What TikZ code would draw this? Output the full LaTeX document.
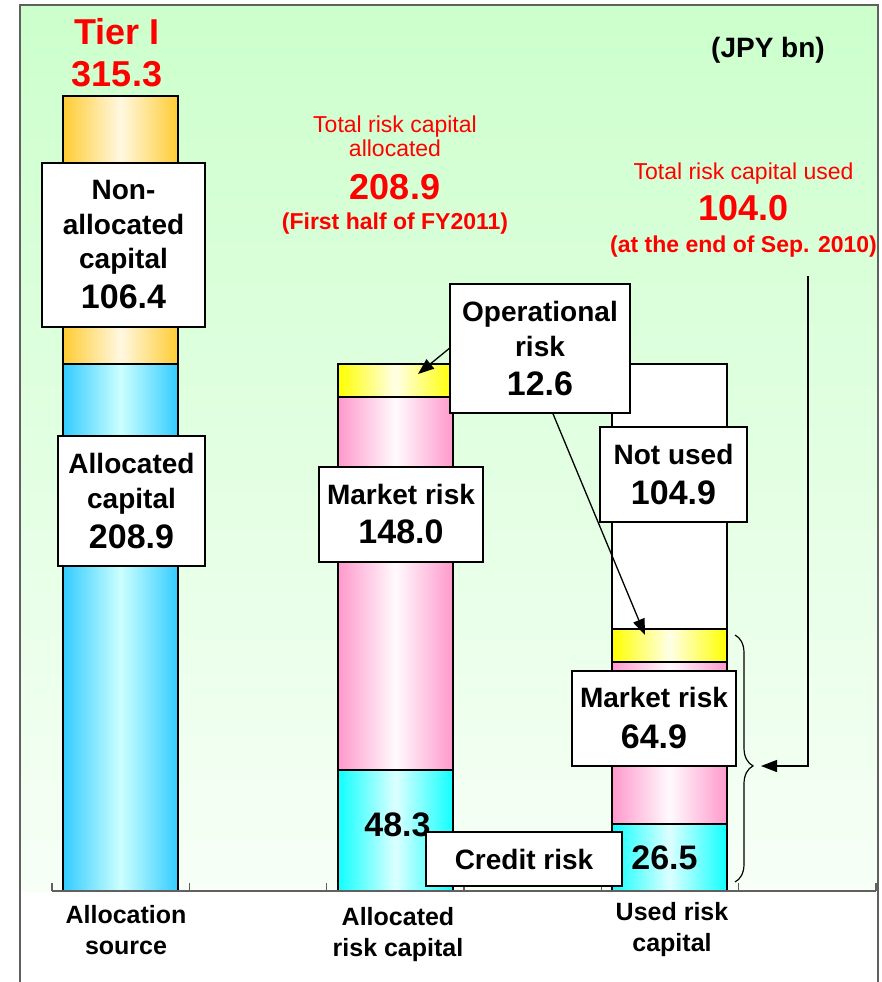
\documentclass[tikz,border=0pt]{standalone}
\usepackage{fontspec}
\setmainfont{Liberation Sans}
\usetikzlibrary{positioning,arrows.meta,decorations.pathreplacing,calc}

\definecolor{bggreen}{HTML}{CCFFCC}
\definecolor{bgpale}{HTML}{F7FFF7}
\definecolor{orangeedge}{HTML}{FFCC33}
\definecolor{orangemid}{HTML}{FFF8E2}
\definecolor{blueedge}{HTML}{33CCFF}
\definecolor{bluemid}{HTML}{CCFFFF}
\definecolor{pinkedge}{HTML}{FF99CC}
\definecolor{pinkmid}{HTML}{FFFAFD}
\definecolor{yellowedge}{HTML}{FFFF00}
\definecolor{yellowmid}{HTML}{FFFFE8}
\definecolor{cyanedge}{HTML}{11FFFF}
\definecolor{cyanmid}{HTML}{DDFFFF}
\definecolor{axisgray}{HTML}{606060}

\newcommand\lblfont{\bfseries\fontsize{28}{34.5}\selectfont}
\newcommand\numfont{\fontsize{34}{40}\selectfont}
\newcommand\bignum{\bfseries\fontsize{36}{42}\selectfont}

\begin{document}
\begin{tikzpicture}[x=1pt, y=-1pt,
	seg/.style={draw=black, line width=1.2pt},
	orangeseg/.style={seg, left color=orangeedge, right color=orangeedge, middle color=orangemid},
	blueseg/.style={seg, left color=blueedge, right color=blueedge, middle color=bluemid},
	pinkseg/.style={seg, left color=pinkedge, right color=pinkedge, middle color=pinkmid},
	yellowseg/.style={seg, left color=yellowedge, right color=yellowedge, middle color=yellowmid},
	cyanseg/.style={seg, left color=cyanedge, right color=cyanedge, middle color=cyanmid},
	lbl/.style={draw=black, fill=white, line width=1.6pt, inner sep=0pt, align=center, font=\lblfont},
	numtxt/.style={inner sep=0pt, font=\bfseries\numfont},
	redtxt/.style={text=red, align=center, inner sep=0pt, font=\fontsize{23}{24}\selectfont},
	axlbl/.style={align=center, inner sep=0pt, font=\bfseries\fontsize{25}{31}\selectfont},
	axis/.style={draw=axisgray, line width=1.2pt},
	arr/.style={line width=1.3pt, -{Triangle[length=16pt,width=12pt]}}
	]
	\useasboundingbox[fill=white] (0,0) rectangle (881,982);
	
	% background and frame
	\shade[top color=bggreen, bottom color=bgpale] (20,5) rectangle (878,891);
	\draw[line width=1.3pt, draw=axisgray] (20,982) -- (20,5) -- (878,5) -- (878,982);
	
	% allocation source
	\draw[orangeseg] (63,96) rectangle (178,364);
	\draw[blueseg] (63,364) rectangle (178,891);
	% allocated risk capital
	\draw[yellowseg] (338,364) rectangle (453,397);
	\draw[pinkseg] (338,397) rectangle (453,770);
	\draw[cyanseg] (338,770) rectangle (453,891);
	% used risk capital
	\draw[seg, fill=white] (612,364) rectangle (727,629);
	\draw[yellowseg] (612,629) rectangle (727,662);
	\draw[pinkseg] (612,662) rectangle (727,824);
	\draw[cyanseg] (612,824) rectangle (727,891);
	
	% axis
	\draw[axis] (52,891) -- (876,891);
	\foreach \t in {0,...,6}
		\draw[axis] ({52+\t*137.33},891) -- ++(0,-8);
	
	\node[axlbl] (src) at (126,930) {Allocation\\source};
	\node[axlbl] (allocrc) at (398,935) {Allocated\\risk capital};
	\node[axlbl] (usedrc) at (672,929.5) {Used risk\\capital};
	
	% titles
	\node[inner sep=0pt, text=red, align=center, font=\bignum] (tier) at (117,53) {Tier I\\315.3};
	\node[inner sep=0pt, font=\bfseries\fontsize{28}{34}\selectfont] (unit) at (768,50) {(JPY bn)};
	\node[redtxt] (totalloc) at (395,175) {Total risk capital\\allocated\\[17pt]{\bignum 208.9}\\[6.5pt]{\bfseries (First half of FY2011)}};
	\node[redtxt] (totused) at (743.5,210.5) {Total risk capital used\\[10pt]{\bignum 104.0}\\[8pt]{\bfseries (at the end of Sep. 2010)}};
	
	% values inside bars
	\node[numtxt] (cr1) at (397.5,825) {48.3};
	\node[numtxt] (cr2) at (664.5,858) {26.5};
	
	% label boxes
	\node[lbl, minimum width=163pt, minimum height=164pt] (nonalloc) at (123.5,245) {Non-\\allocated\\capital\\[5.5pt]{\numfont 106.4}};
	\node[lbl, minimum width=147pt, minimum height=130pt] (alloccap) at (131.5,501) {Allocated\\capital\\[5.5pt]{\numfont 208.9}};
	\node[lbl, minimum width=180pt, minimum height=129pt] (opbox) at (540,348.5) {Operational\\risk\\[4.5pt]{\numfont 12.6}};
	\node[lbl, minimum width=164pt, minimum height=95pt] (mkt1) at (401,514.5) {Market risk\\[4.5pt]{\numfont 148.0}};
	\node[lbl, minimum width=147pt, minimum height=95pt] (notused) at (673.5,474.5) {Not used\\[5.5pt]{\numfont 104.9}};
	\node[lbl, minimum width=164pt, minimum height=95pt] (mkt2) at (654,718.5) {Market risk\\[6.5pt]{\numfont 64.9}};
	\node[lbl, minimum width=196pt, minimum height=54pt] (credit) at (524,859) {Credit risk};
	
	% arrows
	\coordinate (op2tip) at (418,374);
	\coordinate (op3tip) at (645,635);
	\draw[arr] (opbox.west) -- (op2tip);
	\draw[arr] ($(opbox.south)+(13,0)$) -- (op3tip);
	
	\coordinate (brtop) at (735,635);
	\coordinate (brbot) at (735,882);
	\draw[line width=1.2pt, decorate, decoration={brace, amplitude=18pt, aspect=0.53}] (brtop) -- (brbot);
	
	\coordinate (usedtop) at (808,276);
	\coordinate (bracetip) at (761,766);
	\draw[arr] (usedtop) |- (bracetip);
\end{tikzpicture}
\end{document}
